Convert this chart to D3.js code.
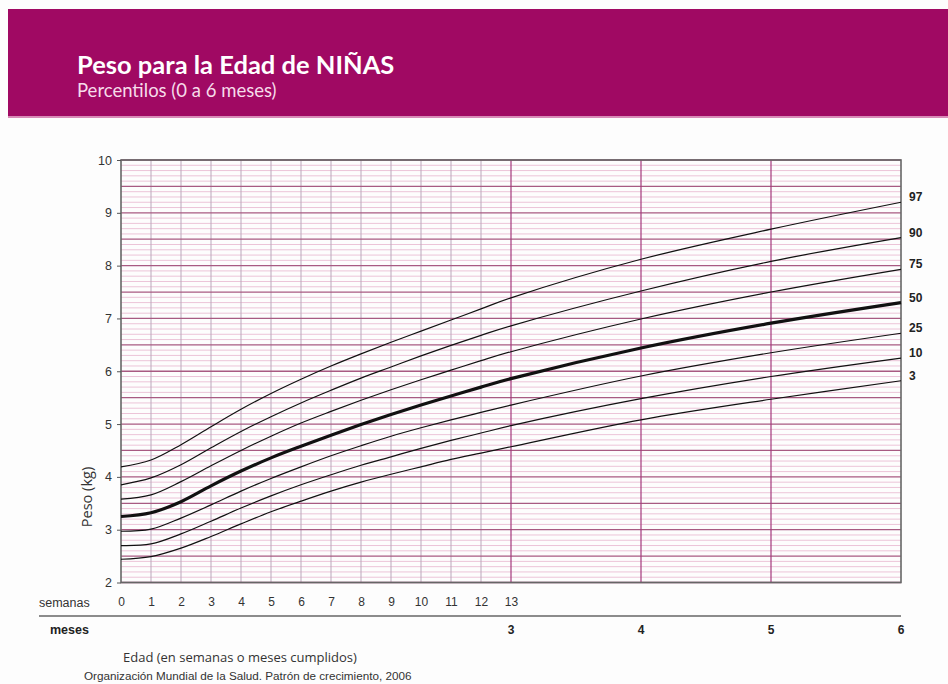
<!DOCTYPE html>
<html>
<head>
<meta charset="utf-8">
<script src="https://cdn.jsdelivr.net/npm/d3@7"></script>
<style>
  body { margin: 0; background: #fdfdfd; }
  svg { display: block; }
</style>
</head>
<body>
<script>
// edad: semanas 0-13, luego meses 4,5,6
var semanas = [0, 1, 2, 3, 4, 5, 6, 7, 8, 9, 10, 11, 12, 13];
var mesesExtra = [4, 5, 6];
var mesesTicks = [3, 4, 5, 6];
var percentiles = ["3", "10", "25", "50", "75", "90", "97"];

var p3  = [2.44, 2.49, 2.65, 2.87, 3.11, 3.34, 3.54, 3.73, 3.90, 4.05, 4.19, 4.33, 4.45, 4.57, 5.08, 5.47, 5.82];
var p10 = [2.70, 2.73, 2.92, 3.16, 3.41, 3.64, 3.85, 4.04, 4.22, 4.38, 4.54, 4.69, 4.83, 4.97, 5.48, 5.90, 6.25];
var p25 = [2.97, 3.01, 3.22, 3.47, 3.73, 3.97, 4.19, 4.40, 4.59, 4.77, 4.93, 5.08, 5.22, 5.36, 5.91, 6.35, 6.72];
var p50 = [3.25, 3.32, 3.53, 3.83, 4.11, 4.36, 4.58, 4.79, 4.99, 5.18, 5.36, 5.53, 5.70, 5.86, 6.44, 6.91, 7.30];
var p75 = [3.58, 3.66, 3.91, 4.21, 4.50, 4.77, 5.02, 5.24, 5.45, 5.65, 5.84, 6.02, 6.20, 6.37, 6.99, 7.50, 7.93];
var p90 = [3.85, 3.98, 4.23, 4.55, 4.86, 5.14, 5.40, 5.64, 5.87, 6.08, 6.29, 6.49, 6.68, 6.86, 7.52, 8.08, 8.53];
var p97 = [4.19, 4.32, 4.61, 4.95, 5.28, 5.58, 5.85, 6.10, 6.33, 6.55, 6.76, 6.97, 7.18, 7.39, 8.12, 8.69, 9.20];

var series = [p3, p10, p25, p50, p75, p90, p97];

var width = 948,
    height = 684;

// 13 semanas = 3 meses en la grafica
var mesASemana = function(m) { return m * 13 / 3; };
var edad = semanas.concat(mesesExtra.map(mesASemana));

var x = d3.scaleLinear().domain([0, 26]).range([121, 901]);
var y = d3.scaleLinear().domain([2, 10]).range([582.5, 160]);

var svg = d3.select("body").append("svg")
    .attr("width", width)
    .attr("height", height);

// cabecera
svg.append("rect")
    .attr("x", 8).attr("y", 9)
    .attr("width", width - 8).attr("height", 107)
    .attr("fill", "#a00963");
svg.append("rect")
    .attr("x", 8).attr("y", 116)
    .attr("width", width - 8).attr("height", 2)
    .attr("fill", "#d88bb7");

svg.append("text")
    .attr("x", 77).attr("y", 74)
    .attr("fill", "white")
    .attr("font-family", "Lato, 'Open Sans', sans-serif")
    .attr("font-weight", "bold")
    .attr("font-size", "25.5px")
    .text("Peso para la Edad de NIÑAS");

svg.append("text")
    .attr("x", 77).attr("y", 97)
    .attr("fill", "#f6dcea")
    .attr("font-family", "Lato, 'Open Sans', sans-serif")
    .attr("font-size", "18.5px")
    .text("Percentilos (0 a 6 meses)");

// rejilla
var grid = svg.append("g");

var menores = d3.range(20, 101).map(function(d) { return d / 10; });
grid.selectAll(".menor")
    .data(menores.filter(function(d) { return Math.round(d * 10) % 5 !== 0; }))
    .enter().append("line")
    .attr("x1", x(0)).attr("x2", x(26))
    .attr("y1", function(d) { return y(d); })
    .attr("y2", function(d) { return y(d); })
    .attr("stroke", "#ecc4d8")
    .attr("stroke-width", 1);

grid.selectAll(".semana")
    .data(semanas.filter(function(d) { return d > 0 && d < 13; }))
    .enter().append("line")
    .attr("x1", function(d) { return x(d); })
    .attr("x2", function(d) { return x(d); })
    .attr("y1", y(10)).attr("y2", y(2))
    .attr("stroke", "#bba7bb")
    .attr("stroke-width", 1);

grid.selectAll(".mayor")
    .data(menores.filter(function(d) { return Math.round(d * 10) % 5 === 0; }))
    .enter().append("line")
    .attr("x1", x(0)).attr("x2", x(26))
    .attr("y1", function(d) { return y(d); })
    .attr("y2", function(d) { return y(d); })
    .attr("stroke", "#a85a82")
    .attr("stroke-width", 1.3);

grid.selectAll(".mes")
    .data(mesesTicks.filter(function(d) { return d < 6; }))
    .enter().append("line")
    .attr("x1", function(d) { return x(mesASemana(d)); })
    .attr("x2", function(d) { return x(mesASemana(d)); })
    .attr("y1", y(10)).attr("y2", y(2))
    .attr("stroke", "#a33a7c")
    .attr("stroke-width", 1.2);

// marco
svg.append("rect")
    .attr("x", x(0)).attr("y", y(10))
    .attr("width", x(26) - x(0)).attr("height", y(2) - y(10))
    .attr("fill", "none")
    .attr("stroke", "#666")
    .attr("stroke-width", 1.6);

// curvas
var line = d3.line()
    .x(function(d, i) { return x(edad[i]); })
    .y(function(d) { return y(d); })
    .curve(d3.curveCatmullRom.alpha(0.5));

svg.selectAll(".curva")
    .data(series)
    .enter().append("path")
    .attr("d", line)
    .attr("fill", "none")
    .attr("stroke", "#111")
    .attr("stroke-width", function(d, i) { return percentiles[i] === "50" ? 3.2 : 1.2; });

// etiquetas de percentil
svg.selectAll(".pct")
    .data(series)
    .enter().append("text")
    .attr("x", 909)
    .attr("y", function(d) { return y(d[d.length - 1]) - 1; })
    .attr("font-family", "'Liberation Sans', Arial, sans-serif")
    .attr("font-weight", "bold")
    .attr("font-size", "12px")
    .attr("fill", "#222")
    .text(function(d, i) { return percentiles[i]; });

// eje y
var yAxis = svg.append("g")
    .attr("transform", "translate(" + x(0) + ",0)")
    .call(d3.axisLeft(y).ticks(8).tickSize(4).tickPadding(5).tickFormat(d3.format("d")));
yAxis.select(".domain").remove();
yAxis.selectAll("line").attr("stroke", "#555");
yAxis.selectAll("text")
    .attr("font-family", "'Liberation Sans', Arial, sans-serif")
    .attr("font-size", "12.5px")
    .attr("fill", "#333");

svg.append("text")
    .attr("transform", "translate(92," + 497 + ") rotate(-90)")
    .attr("text-anchor", "middle")
    .attr("font-family", "'Open Sans', sans-serif")
    .attr("font-size", "14.5px")
    .attr("fill", "#333")
    .text("Peso (kg)");

// eje x: semanas
var xAxis = svg.append("g")
    .attr("transform", "translate(0," + y(2) + ")")
    .call(d3.axisBottom(x).tickValues(semanas).tickSize(0).tickPadding(15).tickFormat(d3.format("d")));
xAxis.select(".domain").remove();
xAxis.selectAll("text")
    .attr("font-family", "'Liberation Sans', Arial, sans-serif")
    .attr("font-size", "12px")
    .attr("fill", "#333");

svg.append("text")
    .attr("x", 39).attr("y", 607)
    .attr("font-family", "'Liberation Sans', Arial, sans-serif")
    .attr("font-size", "12.5px")
    .attr("fill", "#333")
    .text("semanas");

svg.append("line")
    .attr("x1", 39).attr("x2", x(26))
    .attr("y1", 616).attr("y2", 616)
    .attr("stroke", "#8c8c8c")
    .attr("stroke-width", 2);

// eje x: meses
svg.append("text")
    .attr("x", 50).attr("y", 634)
    .attr("font-family", "'Liberation Sans', Arial, sans-serif")
    .attr("font-weight", "bold")
    .attr("font-size", "12.5px")
    .attr("fill", "#222")
    .text("meses");

svg.selectAll(".mesLabel")
    .data(mesesTicks)
    .enter().append("text")
    .attr("x", function(d) { return x(mesASemana(d)); })
    .attr("y", 634)
    .attr("text-anchor", "middle")
    .attr("font-family", "'Liberation Sans', Arial, sans-serif")
    .attr("font-weight", "bold")
    .attr("font-size", "12px")
    .attr("fill", "#222")
    .text(function(d) { return d; });

svg.append("text")
    .attr("x", 123).attr("y", 662)
    .attr("font-family", "'Open Sans', sans-serif")
    .attr("font-size", "13px")
    .attr("fill", "#333")
    .text("Edad (en semanas o meses cumplidos)");

svg.append("text")
    .attr("x", 84).attr("y", 680)
    .attr("font-family", "'Liberation Sans', Arial, sans-serif")
    .attr("font-size", "11.7px")
    .attr("fill", "#333")
    .text("Organización Mundial de la Salud. Patrón de crecimiento, 2006");
</script>
</body>
</html>
